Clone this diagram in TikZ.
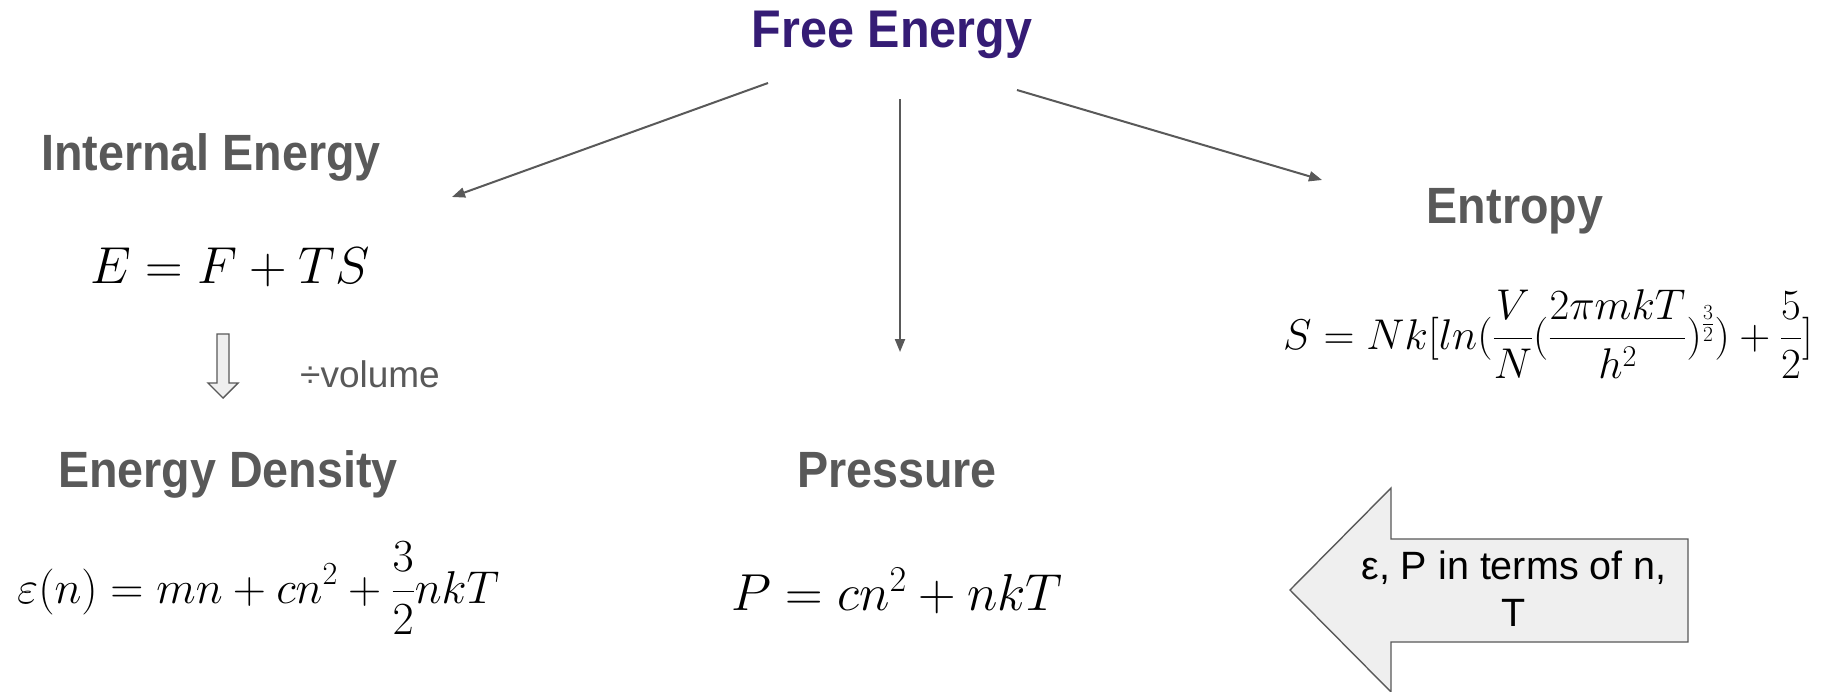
\RequirePackage{fix-cm}
\documentclass[tikz,border=0pt]{standalone}
\usepackage[no-math]{fontspec}
\setmainfont{Liberation Sans}
\newfontfamily\titlefont[FakeStretch=0.915]{Liberation Sans}
\usetikzlibrary{arrows.meta}
\definecolor{dgray}{HTML}{595959}
\definecolor{lgray}{HTML}{EFEFEF}
\definecolor{purp}{HTML}{351C75}
\begin{document}
\begin{tikzpicture}[x=1pt,y=-1pt,
  title/.style={font=\titlefont\bfseries\fontsize{51}{60}\selectfont, text=dgray, inner sep=0pt, anchor=base},
  eqbig/.style={font=\fontsize{52}{60}\selectfont, inner sep=0pt, anchor=base},
  conn/.style={draw=dgray, line width=2pt, -{Triangle[length=13pt,width=10pt]}},
  blockarrow/.style={draw=dgray, fill=lgray, line width=1.4pt, line join=miter}
]
\useasboundingbox (0,0) rectangle (1830,691);
\fill[white] (0,0) rectangle (1830,691);

\node[title, text=purp, font=\titlefont\bfseries\fontsize{53}{60}\selectfont] (free) at (892,47) {Free Energy};

\node[title] (ie) at (211,170) {Internal Energy};
\node[eqbig] (efts) at (230,283) {$E=F+TS$};
\node[font=\fontsize{37}{44}\selectfont, text=dgray, inner sep=0pt, anchor=base] (vol) at (370,387) {÷volume};
\node[title] (ed) at (228,487) {Energy Density};
\node[font=\fontsize{46}{52}\selectfont, inner sep=0pt, anchor=base west] (edeq) at (17,603) {$\displaystyle \varepsilon(n)=mn+cn^2+\frac{3}{2}nkT$};

\node[title] (pr) at (897,487) {Pressure};
\node[eqbig] (preq) at (897,610) {$P=cn^2+nkT$};

\node[title] (en) at (1515,223) {Entropy};
\node[font=\fontsize{43}{50}\selectfont, inner sep=0pt, anchor=base] (seq) at (1548,349) {$\displaystyle S=Nk[ln(\frac{V}{N}(\frac{2\pi mkT}{h^2})^{\frac{3}{2}})+\frac{5}{2}]$};

% connectors
\coordinate (l0) at (768,83);  \coordinate (l1) at (452,197);
\coordinate (m0) at (900,99);  \coordinate (m1) at (900,352);
\coordinate (r0) at (1017,90); \coordinate (r1) at (1322,180);
\draw[conn] (l0) -- (l1);
\draw[conn] (m0) -- (m1);
\draw[conn] (r0) -- (r1);

% down block arrow
\draw[blockarrow] (217,334) -- (229,334) -- (229,383) -- (238,383) -- (223,398) -- (208,383) -- (217,383) -- cycle;

% big left arrow
\draw[blockarrow] (1290,590) -- (1391,488) -- (1391,539) -- (1688,539) -- (1688,642) -- (1391,642) -- (1391,692) -- cycle;
\node[font=\fontsize{39.5}{47}\selectfont, align=center, inner sep=0pt, anchor=center] (bigtxt) at (1514,589) {ε, P in terms of n,\\T};
\end{tikzpicture}
\end{document}
